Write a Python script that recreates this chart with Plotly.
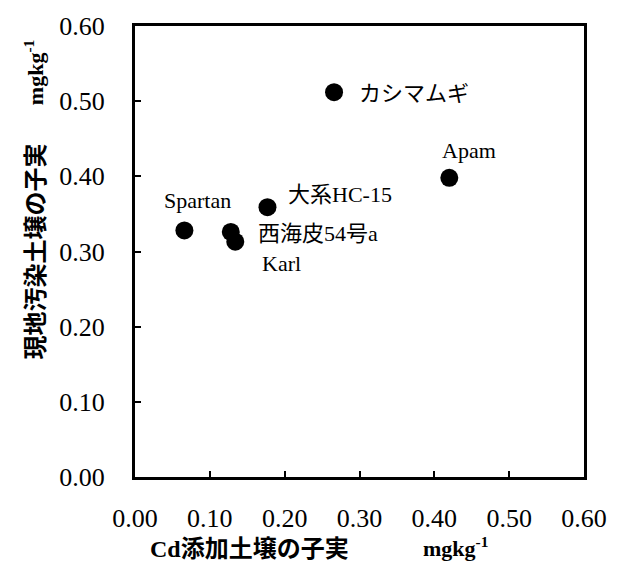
import plotly.graph_objects as go

varieties = ["Spartan", "西海皮54号a", "Karl", "大系HC-15", "カシマムギ", "Apam"]
cd_added = [0.066, 0.128, 0.134, 0.177, 0.266, 0.420]
field_soil = [0.328, 0.326, 0.313, 0.359, 0.512, 0.398]

x_ticks = [0.0, 0.1, 0.2, 0.3, 0.4, 0.5, 0.6]
y_ticks = [0.0, 0.1, 0.2, 0.3, 0.4, 0.5, 0.6]

# label placement (pixel offsets from point, anchor)
label_pos = {
    "Spartan": dict(xshift=13, yshift=30, xanchor="center"),
    "西海皮54号a": dict(xshift=25, yshift=-2, xanchor="left"),
    "Karl": dict(xshift=25, yshift=-22, xanchor="left"),
    "大系HC-15": dict(xshift=19, yshift=13, xanchor="left"),
    "カシマムギ": dict(xshift=23, yshift=-1, xanchor="left"),
    "Apam": dict(xshift=20, yshift=27, xanchor="center"),
}

SERIF = "Liberation Serif, Noto Sans CJK JP, serif"
GOTHIC = "Noto Sans CJK JP, sans-serif"

fig = go.Figure()
fig.add_trace(go.Scatter(
    x=cd_added, y=field_soil, mode="markers",
    marker=dict(size=18, color="black"),
    hoverinfo="skip", showlegend=False,
))

annotations = []
for name, xv, yv in zip(varieties, cd_added, field_soil):
    p = label_pos[name]
    annotations.append(dict(
        x=xv, y=yv, xref="x", yref="y", text=name, showarrow=False,
        xshift=p["xshift"], yshift=p["yshift"], xanchor=p["xanchor"], yanchor="middle",
        font=dict(family=SERIF, size=22, color="black"),
    ))

# axis titles (pixel positions converted to paper coordinates below)
annotations += [
    dict(x=251, y=583 - 550, xref="paper", yref="paper", text="<b>Cd添加土壌の子実</b>",
         showarrow=False, font=dict(family=SERIF, size=24, color="black")),
    dict(x=458, y=583 - 548, xref="paper", yref="paper", text="<b>mgkg<sup>-1</sup></b>",
         showarrow=False, font=dict(family=SERIF, size=22, color="black")),
    dict(x=33, y=583 - 248, xref="paper", yref="paper", text="<b>現地汚染土壌の子実</b>",
         showarrow=False, textangle=-90, font=dict(family=GOTHIC, size=24, color="black")),
    dict(x=33, y=583 - 66, xref="paper", yref="paper", text="<b>mgkg<sup>-1</sup></b>",
         showarrow=False, textangle=-90, font=dict(family=SERIF, size=22, color="black")),
]

L, R, T, B = 135, 31, 19, 106
W, H = 619, 583
pw, ph = W - L - R, H - T - B
for a in annotations:
    if a["xref"] == "paper":
        a["x"] = (a["x"] - L) / pw
        a["y"] = (a["y"] - B) / ph
        a["xanchor"] = "center"
        a["yanchor"] = "middle"

axis_common = dict(
    showline=True, linecolor="black", linewidth=3, mirror=True,
    ticks="inside", ticklen=6, tickwidth=2, tickcolor="black",
    showgrid=False, zeroline=False, range=[0, 0.6],
    tickformat=".2f",
    tickfont=dict(family=SERIF, size=26, color="black"),
)

fig.update_layout(
    width=W, height=H,
    margin=dict(l=L, r=R, t=T, b=B),
    paper_bgcolor="white", plot_bgcolor="white",
    xaxis=dict(**axis_common, tickvals=x_ticks, ticklabelstandoff=16),
    yaxis=dict(**axis_common, tickvals=y_ticks, ticklabelstandoff=22),
    annotations=annotations,
)

fig.write_html("out.html")
